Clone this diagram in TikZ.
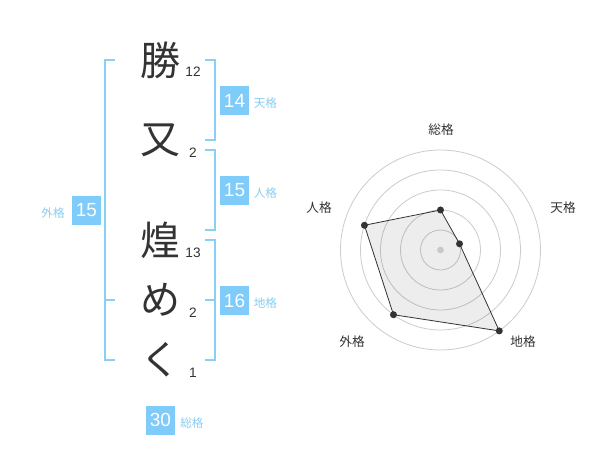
\documentclass[tikz,border=0pt]{standalone}
\usepackage{fontspec}
\setmainfont{Liberation Sans}
\newfontfamily\cjk{Noto Sans CJK JP}
\definecolor{boxblue}{RGB}{127,203,250}
\definecolor{lineblue}{RGB}{137,207,246}
\definecolor{lblblue}{RGB}{140,205,240}
\definecolor{ink}{RGB}{51,51,51}
\definecolor{ring}{RGB}{204,204,204}
\definecolor{centerdot}{RGB}{200,200,200}
\begin{document}
\begin{tikzpicture}[x=0.75pt,y=-0.75pt,
  kanji/.style={font=\cjk\fontsize{30}{30}\selectfont, text=ink, inner sep=0pt},
  strokes/.style={font=\fontsize{10.25}{10.25}\selectfont, text=ink, inner sep=0pt},
  scorebox/.style={fill=boxblue, text=white, minimum width=21.75pt, minimum height=21.75pt, inner sep=0pt, font=\fontsize{14.25}{14.25}\selectfont},
  kaku/.style={text=lblblue, font=\cjk\fontsize{8.75}{8.75}\selectfont, inner sep=0pt},
  bracket/.style={draw=lineblue, line width=1.5pt},
  axislbl/.style={text=ink, font=\cjk\fontsize{9.5}{9.5}\selectfont, inner sep=0pt},
  ringc/.style={draw=ring, line width=0.6pt},
  dot/.style={circle, fill=ink, inner sep=0pt, minimum size=5.25pt}
]
\useasboundingbox (0,0) rectangle (600,470);
\fill[white] (0,0) rectangle (600,470);

% name characters
\node[kanji] (k1) at (160,60) {勝};
\node[kanji] (k2) at (160,140) {又};
\node[kanji] (k3) at (160,240) {煌};
\node[kanji] (k4) at (160,300) {め};
\node[kanji] (k5) at (160,360) {く};
% stroke counts
\node[strokes] (s1) at (193,72) {12};
\node[strokes] (s2) at (193,153) {2};
\node[strokes] (s3) at (193,253) {13};
\node[strokes] (s4) at (193,313) {2};
\node[strokes] (s5) at (193,373) {1};

% brackets
\draw[bracket] (115,60) -- (105,60) -- (105,360) -- (115,360);
\draw[bracket] (105,300) -- (115,300);
\draw[bracket] (205,60) -- (215,60) -- (215,140) -- (205,140);
\draw[bracket] (205,150) -- (215,150) -- (215,230) -- (205,230);
\draw[bracket] (205,240) -- (215,240) -- (215,360) -- (205,360);
\draw[bracket] (205,300) -- (215,300);

% score boxes
\node[scorebox] (ten) at (234.5,100.5) {14};
\node[kaku, anchor=west] (tenl) at (253.5,103) {天格};
\node[scorebox] (jin) at (234.5,190.5) {15};
\node[kaku, anchor=west] (jinl) at (253.5,193) {人格};
\node[scorebox] (chi) at (234.5,300.5) {16};
\node[kaku, anchor=west] (chil) at (253.5,303) {地格};
\node[scorebox] (gai) at (86.5,210.5) {15};
\node[kaku, anchor=east] (gail) at (65,213.5) {外格};
\node[scorebox] (sou) at (160.5,420) {30};
\node[kaku, anchor=west] (soul) at (180,423) {総格};

% radar chart
\coordinate (c) at (440.5,250);
\foreach \r in {15,30,45,60,75} \draw[ringc] (c) circle (\r pt);
\coordinate (p1) at ([shift={(90:30pt)}]c);
\coordinate (p2) at ([shift={(18:15pt)}]c);
\coordinate (p3) at ([shift={(-54:75pt)}]c);
\coordinate (p4) at ([shift={(234:60pt)}]c);
\coordinate (p5) at ([shift={(162:60pt)}]c);
\fill[black, fill opacity=0.07] (p1) -- (p2) -- (p3) -- (p4) -- (p5) -- cycle;
\draw[ink, line width=0.6pt] (p1) -- (p2) -- (p3) -- (p4) -- (p5) -- cycle;
\fill[centerdot] (c) circle (2.5pt);
\foreach \p in {p1,p2,p3,p4,p5} \node[dot] at (\p) {};

\node[axislbl] (a1) at (441,130) {総格};
\node[axislbl] (a2) at (563,208) {天格};
\node[axislbl] (a3) at (319,208) {人格};
\node[axislbl] (a4) at (352,342) {外格};
\node[axislbl] (a5) at (523,342) {地格};
\end{tikzpicture}
\end{document}
